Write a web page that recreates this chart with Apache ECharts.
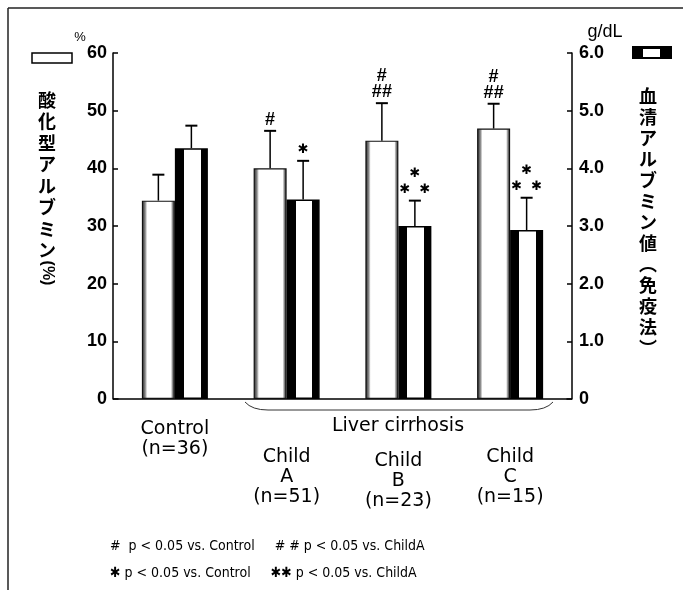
<!DOCTYPE html>
<html>
<head>
<meta charset="utf-8">
<script src="https://cdn.jsdelivr.net/npm/echarts@6/dist/echarts.min.js"></script>
<style>
  html, body { margin: 0; padding: 0; background: #fff; }
  #chart { width: 683px; height: 590px; }
</style>
</head>
<body>
<div id="chart"></div>
<script>
// groups on the x axis
var groups = ['Control', 'Child\nA', 'Child\nB', 'Child\nC'];
var groupN = ['(n=36)', '(n=51)', '(n=23)', '(n=15)'];

// 酸化型アルブミン (%) - left axis
var oxAlb = [34.4, 40.0, 44.8, 46.9];
var oxAlbSD = [4.5, 6.5, 6.5, 4.3];
var oxMarks = ['', '#', '#\n##', '#\n##'];

// 血清アルブミン値 (g/dL) - right axis
var serumAlb = [4.35, 3.46, 3.00, 2.93];
var serumAlbSD = [0.39, 0.67, 0.44, 0.56];
var serumMarks = ['', '✱', '✱\n✱  ✱', '✱\n✱  ✱'];

var leftTicks = { min: 0, max: 60, interval: 10 };
var rightTicks = { min: 0, max: 6, interval: 1 };

var footnotes = [
    '#  p < 0.05 vs. Control     # # p < 0.05 vs. ChildA',
    '✱ p < 0.05 vs. Control     ✱✱ p < 0.05 vs. ChildA'
];

var BAR_W = 33;
var FONT = '"Liberation Sans", Arial, sans-serif';
var CJK = '"Noto Sans CJK JP", sans-serif';
var NARROW = '"Liberation Sans Narrow", "DejaVu Sans Condensed", sans-serif';

function hGradient(stops) {
    return {
        type: 'linear', x: 0, y: 0, x2: 1, y2: 0,
        colorStops: stops.map(function (s) { return { offset: s[0], color: s[1] }; })
    };
}

function errData(vals, sds, marks) {
    return vals.map(function (v, i) { return [i, v, sds[i], marks[i]]; });
}

// error bar (upper only) + significance marks
function errRenderer(offset, markFont) {
    return function (params, api) {
        var idx = api.value(0);
        var v = api.value(1);
        var sd = api.value(2);
        var mark = api.value(3);
        var base = api.coord([idx, v]);
        var top = api.coord([idx, v + sd]);
        var x = base[0] + offset;
        var children = [
            { type: 'line', shape: { x1: x, y1: base[1], x2: x, y2: top[1] },
              style: { stroke: '#000', lineWidth: 1.5 } },
            { type: 'line', shape: { x1: x - 6, y1: top[1], x2: x + 6, y2: top[1] },
              style: { stroke: '#000', lineWidth: 2 } }
        ];
        if (mark) {
            children.push({
                type: 'text',
                style: {
                    text: mark, x: x, y: top[1] - 3,
                    align: 'center', verticalAlign: 'bottom',
                    font: markFont, lineHeight: 16, fill: '#000'
                }
            });
        }
        return { type: 'group', children: children };
    };
}

function vertical(text) {
    return text.split('').join('\n');
}

var chart = echarts.init(document.getElementById('chart'));

var option = {
    animation: false,
    backgroundColor: '#fff',
    grid: { left: 119, right: 117, top: 53, bottom: 191 },
    xAxis: {
        type: 'category',
        data: groups,
        axisLine: { lineStyle: { color: '#000', width: 1.5 } },
        axisTick: { show: false },
        axisLabel: {
            interval: 0,
            margin: 20,
            color: '#000',
            fontSize: 19,
            fontFamily: '"DejaVu Sans", sans-serif',
            lineHeight: 20,
            formatter: function (val, i) {
                if (i === 0) return val + '\n' + groupN[i];
                var sp = i === 2 ? '{s2| }' : '{s1| }';
                return sp + '\n' + val + '\n' + groupN[i];
            },
            rich: {
                s1: { lineHeight: 28, fontSize: 10 },
                s2: { lineHeight: 32, fontSize: 10 }
            }
        }
    },
    yAxis: [{
        type: 'value',
        min: leftTicks.min, max: leftTicks.max, interval: leftTicks.interval,
        offset: 6,
        name: '%',
        nameLocation: 'end',
        nameGap: 6,
        nameTextStyle: { color: '#000', fontSize: 13, fontFamily: FONT, padding: [0, 66, 0, 0] },
        axisLine: { show: true, lineStyle: { color: '#000', width: 1.5 } },
        axisTick: { show: true, inside: true, length: 5, lineStyle: { color: '#000', width: 1.5 } },
        axisLabel: { color: '#000', fontSize: 18, fontWeight: 'bold', fontFamily: FONT, margin: 6 },
        splitLine: { show: false }
    }, {
        type: 'value',
        min: rightTicks.min, max: rightTicks.max, interval: rightTicks.interval,
        offset: 6,
        name: 'g/dL',
        nameLocation: 'end',
        nameGap: 12,
        nameTextStyle: { color: '#000', fontSize: 18, fontFamily: FONT, padding: [0, 0, 0, 66] },
        axisLine: { show: true, lineStyle: { color: '#000', width: 1.5 } },
        axisTick: { show: true, inside: true, length: 5, lineStyle: { color: '#000', width: 1.5 } },
        axisLabel: {
            color: '#000', fontSize: 18, fontWeight: 'bold', fontFamily: FONT, margin: 7,
            formatter: function (v) { return v === 0 ? '0' : v.toFixed(1); }
        },
        splitLine: { show: false }
    }],
    series: [{
        name: '酸化型アルブミン',
        type: 'bar',
        yAxisIndex: 0,
        data: oxAlb,
        barWidth: BAR_W,
        barGap: '0%',
        itemStyle: {
            color: hGradient([[0, '#222'], [0.1, '#888'], [0.16, '#fff'], [0.88, '#fff'], [0.93, '#888'], [1, '#222']]),
            borderColor: '#111',
            borderWidth: 1.2
        }
    }, {
        name: '血清アルブミン値',
        type: 'bar',
        yAxisIndex: 1,
        data: serumAlb,
        barWidth: BAR_W,
        barGap: '0%',
        itemStyle: {
            color: hGradient([[0, '#000'], [0.27, '#000'], [0.27, '#fff'], [0.78, '#fff'], [0.78, '#000'], [1, '#000']]),
            borderColor: '#000',
            borderWidth: 1.5
        }
    }, {
        type: 'custom',
        yAxisIndex: 0,
        renderItem: errRenderer(-BAR_W / 2, 'bold 18px "Liberation Sans", Arial, sans-serif'),
        data: errData(oxAlb, oxAlbSD, oxMarks),
        z: 5
    }, {
        type: 'custom',
        yAxisIndex: 1,
        renderItem: errRenderer(BAR_W / 2, 'bold 13px "DejaVu Sans", sans-serif'),
        data: errData(serumAlb, serumAlbSD, serumMarks),
        z: 5
    }],
    graphic: [
        // frame
        { type: 'line', shape: { x1: 8, y1: 8, x2: 683, y2: 8 }, style: { stroke: '#222', lineWidth: 1.5 } },
        { type: 'line', shape: { x1: 8, y1: 8, x2: 8, y2: 590 }, style: { stroke: '#222', lineWidth: 1.5 } },
        // extend baseline to the offset axes
        { type: 'line', shape: { x1: 113, y1: 399, x2: 119, y2: 399 }, style: { stroke: '#000', lineWidth: 1.5 } },
        { type: 'line', shape: { x1: 566, y1: 399, x2: 572, y2: 399 }, style: { stroke: '#000', lineWidth: 1.5 } },
        // legend boxes
        { type: 'rect', shape: { x: 32, y: 53, width: 40, height: 10 }, style: { fill: '#fff', stroke: '#000', lineWidth: 1.5 } },
        { type: 'rect', shape: { x: 632, y: 46, width: 40, height: 13 }, style: { fill: '#000' } },
        { type: 'rect', shape: { x: 643, y: 49, width: 17, height: 8 }, style: { fill: '#fff' } },
        // axis titles (vertical)
        { type: 'text', x: 47, y: 89, style: {
            text: vertical('酸化型アルブミン'), fontSize: 18, fontWeight: 'bold', fontFamily: CJK,
            lineHeight: 21.5, align: 'center', verticalAlign: 'top', fill: '#000' } },
        { type: 'text', x: 47, y: 273, rotation: -Math.PI / 2, style: {
            text: '(%)', fontSize: 16, fontWeight: 'bold', fontFamily: FONT,
            align: 'center', verticalAlign: 'middle', fill: '#000' } },
        { type: 'text', x: 648, y: 86, style: {
            text: vertical('血清アルブミン値︵免疫法︶'), fontSize: 18, fontWeight: 'bold', fontFamily: CJK,
            lineHeight: 21, align: 'center', verticalAlign: 'top', fill: '#000' } },
        // brace under cirrhosis groups
        { type: 'bezierCurve', shape: { x1: 245, y1: 402, cpx1: 252, cpy1: 410, x2: 268, y2: 410 },
          style: { fill: null, stroke: '#333', lineWidth: 1 } },
        { type: 'line', shape: { x1: 268, y1: 410, x2: 530, y2: 410 }, style: { stroke: '#333', lineWidth: 1 } },
        { type: 'bezierCurve', shape: { x1: 530, y1: 410, cpx1: 546, cpy1: 410, x2: 553, y2: 402 },
          style: { fill: null, stroke: '#333', lineWidth: 1 } },
        { type: 'text', x: 398, y: 426, style: {
            text: 'Liver cirrhosis', fontSize: 19, fontFamily: '"DejaVu Sans", sans-serif',
            align: 'center', verticalAlign: 'middle', fill: '#000' } },
        // footnotes
        { type: 'text', x: 110, y: 546, style: {
            text: footnotes[0], fontSize: 14, fontFamily: NARROW,
            align: 'left', verticalAlign: 'middle', fill: '#000' } },
        { type: 'text', x: 110, y: 573, style: {
            text: footnotes[1], fontSize: 14, fontFamily: NARROW,
            align: 'left', verticalAlign: 'middle', fill: '#000' } }
    ]
};

chart.setOption(option);
</script>
</body>
</html>
